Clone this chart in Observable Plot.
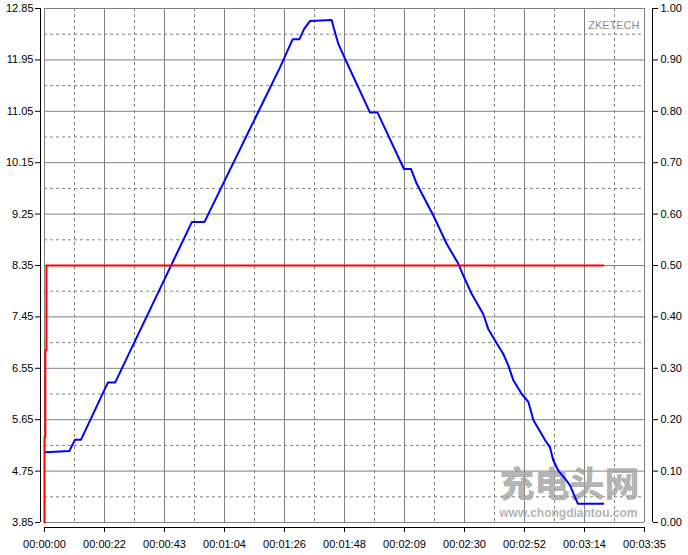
<!DOCTYPE html>
<html><head><meta charset="utf-8">
<script src="https://cdn.jsdelivr.net/npm/d3@7"></script>
<script src="https://cdn.jsdelivr.net/npm/@observablehq/plot@0.6"></script>
<style>
html,body{margin:0;padding:0;background:#fff;}
#chart svg{display:block;}
</style></head><body><div id="chart"></div>
<script>
// Voltage trace (blue, left axis), time in seconds
const timeS = [0.3, 8.9, 10.9, 13.1, 22.7, 25.3, 52.8, 57.3, 84.4, 88.9, 91.3, 93.0, 95.1, 102.9, 103.7, 105.3, 107.7, 116.6, 119.3, 128.8, 131.3, 133.4, 135.2, 139.3, 144.1, 148.3, 150.1, 153.1, 157.2, 159.0, 161.4, 164.4, 166.2, 168.0, 171.0, 173.4, 175.2, 177.0, 179.4, 181.1, 182.3, 184.1, 186.5, 188.3, 191.1, 200.2];
const voltage = [5.08, 5.10, 5.30, 5.30, 6.30, 6.30, 9.11, 9.11, 11.82, 12.31, 12.31, 12.49, 12.63, 12.65, 12.50, 12.23, 11.97, 11.03, 11.03, 10.04, 10.04, 9.78, 9.61, 9.23, 8.73, 8.38, 8.17, 7.85, 7.50, 7.24, 7.04, 6.80, 6.60, 6.34, 6.10, 5.96, 5.64, 5.49, 5.29, 5.17, 4.94, 4.76, 4.62, 4.50, 4.18, 4.18];
// Current trace (red, right axis)
const currentTime = [0, 0, 0.3, 0.3, 0.7, 0.7, 200.3];
const current = [0, 0.166, 0.166, 0.335, 0.335, 0.5, 0.5];

const xTickValues = [0, 21.5, 43, 64.5, 86, 107.5, 129, 150.5, 172, 193.5, 215];
const xTickLabels = ["00:00:00","00:00:22","00:00:43","00:01:04","00:01:26","00:01:48","00:02:09","00:02:30","00:02:52","00:03:14","00:03:35"];
const leftTicks = [3.85, 4.75, 5.65, 6.55, 7.45, 8.35, 9.25, 10.15, 11.05, 11.95, 12.85];
const leftTickLabels = ["3.85","4.75","5.65","6.55","7.45","8.35","9.25","10.15","11.05","11.95","12.85"];
const rightTicks = [0, 0.1, 0.2, 0.3, 0.4, 0.5, 0.6, 0.7, 0.8, 0.9, 1.0];
const rightTickLabels = ["0.00","0.10","0.20","0.30","0.40","0.50","0.60","0.70","0.80","0.90","1.00"];

const vMin = leftTicks[0], vMax = leftTicks[leftTicks.length - 1];
const cMin = rightTicks[0], cMax = rightTicks[rightTicks.length - 1];
const toLeft = c => vMin + (c - cMin) * (vMax - vMin) / (cMax - cMin);

const blue = timeS.map((t, i) => ({t, v: voltage[i]}));
const red = currentTime.map((t, i) => ({t, v: toLeft(current[i])}));
const xMinor = xTickValues.slice(0, -1).map((v, i) => (v + xTickValues[i + 1]) / 2);
const yMinor = leftTicks.slice(0, -1).map((v, i) => (v + leftTicks[i + 1]) / 2);
const rightPos = rightTicks.map(toLeft);

const grid = "#808080";
const chart = Plot.plot({
  width: 688, height: 555,
  marginLeft: 44, marginRight: 44, marginTop: 8, marginBottom: 33,
  style: {fontFamily: "Liberation Sans, Arial, sans-serif", fontSize: "11px", color: "#000", background: "#fff"},
  x: {domain: [xTickValues[0], xTickValues[xTickValues.length - 1]]},
  y: {domain: [vMin, vMax]},
  marks: [
    Plot.ruleX(xMinor, {stroke: grid, strokeDasharray: "3,3"}),
    Plot.ruleY(yMinor, {stroke: grid, strokeDasharray: "3,3"}),
    Plot.ruleX(xTickValues, {stroke: grid}),
    Plot.ruleY(leftTicks, {stroke: grid}),
    Plot.text(["充电头网"], {frameAnchor: "bottom-right", dx: -5, dy: -26, lineAnchor: "bottom", textAnchor: "end", fontSize: 35, fontWeight: 900, fontFamily: "Noto Sans CJK SC", fill: "#a0a0a0", fillOpacity: 0.8}),
    Plot.text(["www.chongdiantou.com"], {frameAnchor: "bottom-right", dx: -7, dy: -9, lineAnchor: "middle", textAnchor: "end", fontSize: 12, fontWeight: "bold", fontFamily: "Liberation Sans, Arial", fill: "#a0a0a0", fillOpacity: 0.8}),
    Plot.text(["ZKETECH"], {frameAnchor: "top-right", dx: -5, dy: 17, lineAnchor: "middle", textAnchor: "end", fontSize: 11, fill: "#8c8c8c"}),
    Plot.line(blue, {x: "t", y: "v", stroke: "#0000ff", strokeWidth: 2, curve: "linear"}),
    Plot.line(red, {x: "t", y: "v", stroke: "#ff0000", strokeWidth: 2, curve: "linear"}),
    // axis lines
    Plot.ruleX([xTickValues[0]], {dx: -4, stroke: "#000"}),
    Plot.ruleX([xTickValues[xTickValues.length - 1]], {dx: 8, stroke: "#000"}),
    Plot.ruleY([vMin], {dy: 5, stroke: "#000"}),
    Plot.axisY(leftTicks, {anchor: "left", label: null, dx: -4, tickSize: 5, tickPadding: 2, stroke: "#000", fill: "#000",
      tickFormat: d => leftTickLabels[leftTicks.indexOf(d)]}),
    Plot.axisY(rightPos, {anchor: "right", label: null, dx: 8, tickSize: 5, tickPadding: 3, stroke: "#000", fill: "#000",
      tickFormat: d => rightTickLabels[rightPos.indexOf(d)]}),
    Plot.axisX(xTickValues, {anchor: "bottom", label: null, dy: 5, tickSize: 5, tickPadding: 8, stroke: "#000", fill: "#000",
      tickFormat: d => xTickLabels[xTickValues.indexOf(d)]})
  ]
});
document.getElementById("chart").appendChild(chart);
</script>
</body></html>
